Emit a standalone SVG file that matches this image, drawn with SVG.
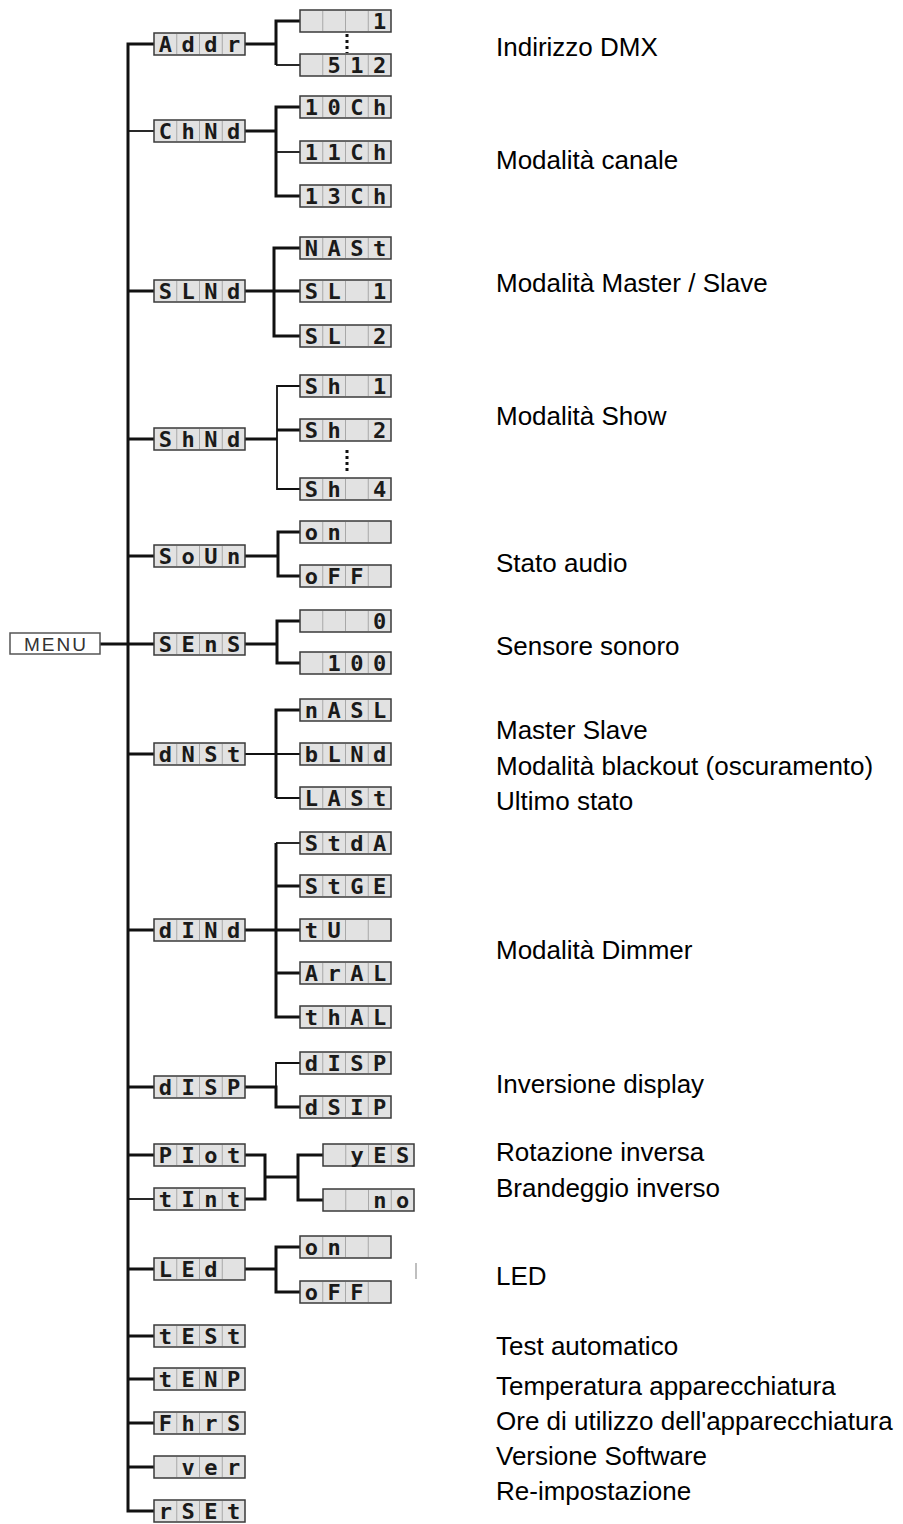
<svg xmlns="http://www.w3.org/2000/svg" xmlns:xlink="http://www.w3.org/1999/xlink" width="903" height="1524" viewBox="0 0 903 1524">
<style>
.box{fill:#e2e2e2;stroke:#3a3a3a;stroke-width:1.5}
.cell{stroke:#a8a8a8;stroke-width:1;fill:none}
.seg{font-family:"DejaVu Sans Mono","Liberation Mono",monospace;font-weight:bold;font-size:22px;fill:#1a1a1a;text-anchor:middle}
.lbl{font-family:"Liberation Sans",Arial,sans-serif;font-size:26px;fill:#000}
.c{stroke:#111;fill:none;stroke-width:3}
.t{stroke:#111;fill:none;stroke-width:1.8}
.dots{stroke:#111;fill:none;stroke-width:3;stroke-dasharray:3 3}
.menu{fill:#fff;stroke:#555;stroke-width:1.5}
.mtxt{font-family:"Liberation Sans",Arial,sans-serif;font-size:19px;fill:#333;text-anchor:middle;letter-spacing:2px}
</style>
<defs>
<g id="bx"><rect class="box" x="0" y="0" width="91" height="22"/><path class="cell" d="M22.75 1v20M45.5 1v20M68.25 1v20"/></g>
</defs>
<rect width="903" height="1524" fill="#fff"/>

<g id="connectors">
<path class="c" d="M154 44H128V1511H154"/>
<path class="c" d="M100 644H154"/>
<path class="t" d="M128 131H154"/>
<path class="c" d="M128 291H154M128 439H154M128 556H154M128 754H154M128 930H154M128 1087H154M128 1155H154M128 1269H154M128 1336H154M128 1379H154M128 1423H154M128 1467H154"/>
<path class="t" d="M128 1199H154"/>
<path class="c" d="M245 44H276M300 21H276V65"/>
<path class="t" d="M276 65H300"/>
<path class="dots" d="M347 34V53"/>
<path class="c" d="M245 131H276M300 107H276V196H300"/>
<path class="t" d="M276 152H300"/>
<path class="c" d="M245 291H300M300 248H274V336H300"/>
<path class="c" d="M245 439H277M300 430H277"/>
<path class="t" d="M300 386H277V489H300"/>
<path class="dots" d="M347 450V471"/>
<path class="c" d="M245 556H278M300 532H278V576H300"/>
<path class="c" d="M245 644H277M300 621H277V663H300"/>
<path class="t" d="M245 754H300M276 798H300"/>
<path class="c" d="M300 710H276V798"/>
<path class="c" d="M245 930H300M276 843V1017H300M276 886H300M276 973H300"/>
<path class="t" d="M276 843H300"/>
<path class="c" d="M245 1087H276V1107H300"/>
<path class="t" d="M276 1087V1063H300"/>
<path class="c" d="M245 1155H265V1199H245M265 1177H298M323 1155H298V1200H323"/>
<path class="c" d="M245 1269H276M300 1247H276V1292H300"/>
</g>

<g id="menu"><rect class="menu" x="10" y="633" width="90" height="21"/><text class="mtxt" x="56" y="651">MENU</text></g>

<g id="n-addr" transform="translate(154,33)"><use xlink:href="#bx"/><text class="seg" x="11.4 34.1 56.9 79.6" y="19">Addr</text></g>
<g id="n-chnd" transform="translate(154,120)"><use xlink:href="#bx"/><text class="seg" x="11.4 34.1 56.9 79.6" y="19">ChNd</text></g>
<g id="n-slnd" transform="translate(154,280)"><use xlink:href="#bx"/><text class="seg" x="11.4 34.1 56.9 79.6" y="19">SLNd</text></g>
<g id="n-shnd" transform="translate(154,428)"><use xlink:href="#bx"/><text class="seg" x="11.4 34.1 56.9 79.6" y="19">ShNd</text></g>
<g id="n-soun" transform="translate(154,545)"><use xlink:href="#bx"/><text class="seg" x="11.4 34.1 56.9 79.6" y="19">SoUn</text></g>
<g id="n-sens" transform="translate(154,633)"><use xlink:href="#bx"/><text class="seg" x="11.4 34.1 56.9 79.6" y="19">SEnS</text></g>
<g id="n-dnst" transform="translate(154,743)"><use xlink:href="#bx"/><text class="seg" x="11.4 34.1 56.9 79.6" y="19">dNSt</text></g>
<g id="n-dind" transform="translate(154,919)"><use xlink:href="#bx"/><text class="seg" x="11.4 34.1 56.9 79.6" y="19">dINd</text></g>
<g id="n-disp" transform="translate(154,1076)"><use xlink:href="#bx"/><text class="seg" x="11.4 34.1 56.9 79.6" y="19">dISP</text></g>
<g id="n-piot" transform="translate(154,1144)"><use xlink:href="#bx"/><text class="seg" x="11.4 34.1 56.9 79.6" y="19">PIot</text></g>
<g id="n-tint" transform="translate(154,1188)"><use xlink:href="#bx"/><text class="seg" x="11.4 34.1 56.9 79.6" y="19">tInt</text></g>
<g id="n-led" transform="translate(154,1258)"><use xlink:href="#bx"/><text class="seg" x="11.4 34.1 56.9" y="19">LEd</text></g>
<g id="n-test" transform="translate(154,1325)"><use xlink:href="#bx"/><text class="seg" x="11.4 34.1 56.9 79.6" y="19">tESt</text></g>
<g id="n-tenp" transform="translate(154,1368)"><use xlink:href="#bx"/><text class="seg" x="11.4 34.1 56.9 79.6" y="19">tENP</text></g>
<g id="n-fhrs" transform="translate(154,1412)"><use xlink:href="#bx"/><text class="seg" x="11.4 34.1 56.9 79.6" y="19">FhrS</text></g>
<g id="n-ver" transform="translate(154,1456)"><use xlink:href="#bx"/><text class="seg" x="34.1 56.9 79.6" y="19">ver</text></g>
<g id="n-rset" transform="translate(154,1500)"><use xlink:href="#bx"/><text class="seg" x="11.4 34.1 56.9 79.6" y="19">rSEt</text></g>

<g id="n-a1" transform="translate(300,10)"><use xlink:href="#bx"/><text class="seg" x="79.6" y="19">1</text></g>
<g id="n-a2" transform="translate(300,54)"><use xlink:href="#bx"/><text class="seg" x="34.1 56.9 79.6" y="19">512</text></g>
<g id="n-c1" transform="translate(300,96)"><use xlink:href="#bx"/><text class="seg" x="11.4 34.1 56.9 79.6" y="19">10Ch</text></g>
<g id="n-c2" transform="translate(300,141)"><use xlink:href="#bx"/><text class="seg" x="11.4 34.1 56.9 79.6" y="19">11Ch</text></g>
<g id="n-c3" transform="translate(300,185)"><use xlink:href="#bx"/><text class="seg" x="11.4 34.1 56.9 79.6" y="19">13Ch</text></g>
<g id="n-s1" transform="translate(300,237)"><use xlink:href="#bx"/><text class="seg" x="11.4 34.1 56.9 79.6" y="19">NASt</text></g>
<g id="n-s2" transform="translate(300,280)"><use xlink:href="#bx"/><text class="seg" x="11.4 34.1 79.6" y="19">SL1</text></g>
<g id="n-s3" transform="translate(300,325)"><use xlink:href="#bx"/><text class="seg" x="11.4 34.1 79.6" y="19">SL2</text></g>
<g id="n-h1" transform="translate(300,375)"><use xlink:href="#bx"/><text class="seg" x="11.4 34.1 79.6" y="19">Sh1</text></g>
<g id="n-h2" transform="translate(300,419)"><use xlink:href="#bx"/><text class="seg" x="11.4 34.1 79.6" y="19">Sh2</text></g>
<g id="n-h3" transform="translate(300,478)"><use xlink:href="#bx"/><text class="seg" x="11.4 34.1 79.6" y="19">Sh4</text></g>
<g id="n-o1" transform="translate(300,521)"><use xlink:href="#bx"/><text class="seg" x="11.4 34.1" y="19">on</text></g>
<g id="n-o2" transform="translate(300,565)"><use xlink:href="#bx"/><text class="seg" x="11.4 34.1 56.9" y="19">oFF</text></g>
<g id="n-e1" transform="translate(300,610)"><use xlink:href="#bx"/><text class="seg" x="79.6" y="19">0</text></g>
<g id="n-e2" transform="translate(300,652)"><use xlink:href="#bx"/><text class="seg" x="34.1 56.9 79.6" y="19">100</text></g>
<g id="n-m1" transform="translate(300,699)"><use xlink:href="#bx"/><text class="seg" x="11.4 34.1 56.9 79.6" y="19">nASL</text></g>
<g id="n-m2" transform="translate(300,743)"><use xlink:href="#bx"/><text class="seg" x="11.4 34.1 56.9 79.6" y="19">bLNd</text></g>
<g id="n-m3" transform="translate(300,787)"><use xlink:href="#bx"/><text class="seg" x="11.4 34.1 56.9 79.6" y="19">LASt</text></g>
<g id="n-d1" transform="translate(300,832)"><use xlink:href="#bx"/><text class="seg" x="11.4 34.1 56.9 79.6" y="19">StdA</text></g>
<g id="n-d2" transform="translate(300,875)"><use xlink:href="#bx"/><text class="seg" x="11.4 34.1 56.9 79.6" y="19">StGE</text></g>
<g id="n-d3" transform="translate(300,919)"><use xlink:href="#bx"/><text class="seg" x="11.4 34.1" y="19">tU</text></g>
<g id="n-d4" transform="translate(300,962)"><use xlink:href="#bx"/><text class="seg" x="11.4 34.1 56.9 79.6" y="19">ArAL</text></g>
<g id="n-d5" transform="translate(300,1006)"><use xlink:href="#bx"/><text class="seg" x="11.4 34.1 56.9 79.6" y="19">thAL</text></g>
<g id="n-p1" transform="translate(300,1052)"><use xlink:href="#bx"/><text class="seg" x="11.4 34.1 56.9 79.6" y="19">dISP</text></g>
<g id="n-p2" transform="translate(300,1096)"><use xlink:href="#bx"/><text class="seg" x="11.4 34.1 56.9 79.6" y="19">dSIP</text></g>
<g id="n-y1" transform="translate(323,1144)"><use xlink:href="#bx"/><text class="seg" x="34.1 56.9 79.6" y="19">yES</text></g>
<g id="n-y2" transform="translate(323,1189)"><use xlink:href="#bx"/><text class="seg" x="56.9 79.6" y="19">no</text></g>
<g id="n-l1" transform="translate(300,1236)"><use xlink:href="#bx"/><text class="seg" x="11.4 34.1" y="19">on</text></g>
<g id="n-l2" transform="translate(300,1281)"><use xlink:href="#bx"/><text class="seg" x="11.4 34.1 56.9" y="19">oFF</text></g>

<line x1="416" y1="1263" x2="416" y2="1279" stroke="#aaa" stroke-width="1.5"/>

<g id="labels">
<text class="lbl" x="496" y="56">Indirizzo DMX</text>
<text class="lbl" x="496" y="169">Modalità canale</text>
<text class="lbl" x="496" y="292">Modalità Master / Slave</text>
<text class="lbl" x="496" y="425">Modalità Show</text>
<text class="lbl" x="496" y="572">Stato audio</text>
<text class="lbl" x="496" y="655">Sensore sonoro</text>
<text class="lbl" x="496" y="739">Master Slave</text>
<text class="lbl" x="496" y="775">Modalità blackout (oscuramento)</text>
<text class="lbl" x="496" y="810">Ultimo stato</text>
<text class="lbl" x="496" y="959">Modalità Dimmer</text>
<text class="lbl" x="496" y="1093">Inversione display</text>
<text class="lbl" x="496" y="1161">Rotazione inversa</text>
<text class="lbl" x="496" y="1197">Brandeggio inverso</text>
<text class="lbl" x="496" y="1285">LED</text>
<text class="lbl" x="496" y="1355">Test automatico</text>
<text class="lbl" x="496" y="1395">Temperatura apparecchiatura</text>
<text class="lbl" x="496" y="1430">Ore di utilizzo dell'apparecchiatura</text>
<text class="lbl" x="496" y="1465">Versione Software</text>
<text class="lbl" x="496" y="1500">Re-impostazione</text>
</g>
</svg>
